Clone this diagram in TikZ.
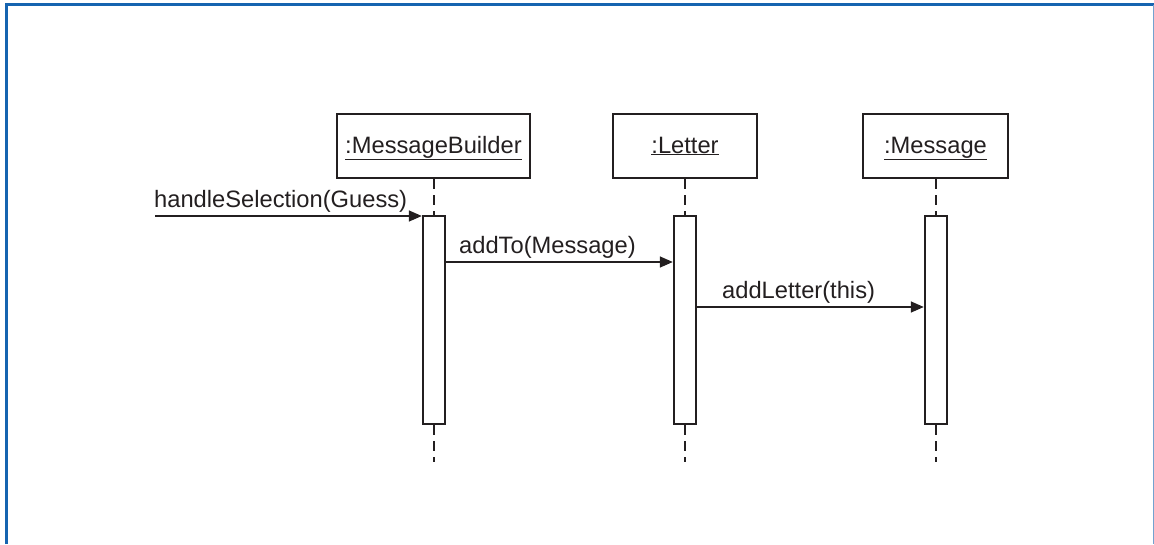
\documentclass[tikz,border=0pt]{standalone}
\usepackage{fontspec}
\setmainfont{Liberation Sans}
\usetikzlibrary{arrows.meta}
\definecolor{frameblue}{RGB}{22,100,176}
\definecolor{ink}{RGB}{35,31,32}
\tikzset{
  objbox/.style={draw=ink, line width=2.8pt, rectangle, minimum height=64pt, inner sep=0pt,
    text height=17pt, text depth=3pt, font=\fontsize{23.7}{26}\selectfont, text=ink},
  actbox/.style={draw=ink, line width=2.4pt, fill=white, rectangle, minimum width=22pt, minimum height=208pt, inner sep=0pt},
  lifeline/.style={draw=ink, line width=1.5pt, dash pattern=on 10pt off 6pt},
  msgline/.style={draw=ink, line width=1.5pt, -{Triangle[length=13pt,width=11pt]}},
  msglabel/.style={font=\fontsize{23.7}{26}\selectfont, text=ink, inner sep=0pt, anchor=base west},
}
\begin{document}
\begin{tikzpicture}[x=1pt,y=-1pt]
\useasboundingbox (0,0) rectangle (1154,544);
% frame
\draw[frameblue, line width=3pt] (6.5,544) -- (6.5,4.5) -- (1154,4.5);
\draw[frameblue!60, line width=1pt] (1153.5,4.5) -- (1153.5,544);
% objects
\node[objbox, minimum width=193pt] (mb) at (433.5,146) {\underline{:MessageBuilder}};
\node[objbox, minimum width=144pt] (let) at (685,146) {\underline{:Letter}};
\node[objbox, minimum width=145pt] (msg) at (935.5,146) {\underline{:Message}};
% activations
\node[actbox] (mbact) at (434,320) {};
\node[actbox] (letact) at (685,320) {};
\node[actbox] (msgact) at (936,320) {};
% lifeline ends
\coordinate (mbend) at (434,462);
\coordinate (letend) at (685,462);
\coordinate (msgend) at (936,462);
\draw[lifeline] (mb.south -| mbact.north) -- (mbact.north);
\draw[lifeline] (mbact.south) -- (mbend);
\draw[lifeline] (let.south -| letact.north) -- (letact.north);
\draw[lifeline] (letact.south) -- (letend);
\draw[lifeline] (msg.south -| msgact.north) -- (msgact.north);
\draw[lifeline] (msgact.south) -- (msgend);
% messages
\coordinate (start) at (155,216);
\draw[msgline] (start) -- (mbact.west |- start);
\node[msglabel] (l1) at (154,207) {handleSelection(Guess)};
\draw[msgline] (mbact.east |- 0,262) -- (letact.west |- 0,262);
\node[msglabel] (l2) at (459,253) {addTo(Message)};
\draw[msgline] (letact.east |- 0,307) -- (msgact.west |- 0,307);
\node[msglabel] (l3) at (722,298) {addLetter(this)};
\end{tikzpicture}
\end{document}
